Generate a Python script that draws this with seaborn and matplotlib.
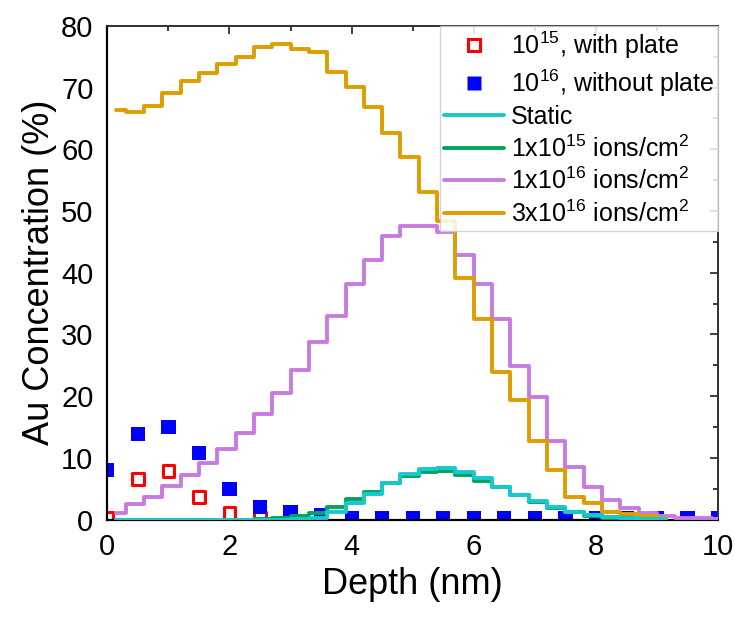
import numpy as np
import matplotlib
matplotlib.use("Agg")
import matplotlib.pyplot as plt
from matplotlib.lines import Line2D
from matplotlib.ticker import MultipleLocator
import seaborn as sns

# ---------------- data ----------------
depth_orange = [0.15, 0.45, 0.75, 1.05, 1.35, 1.65, 1.95, 2.25, 2.55, 2.85, 3.15,
                3.45, 3.75, 4.05, 4.35, 4.65, 4.95, 5.25, 5.55, 5.85, 6.15, 6.45,
                6.75, 7.05, 7.35, 7.65, 7.95, 8.25, 8.55, 8.85, 9.15]
conc_3e16 = [66.3, 66.1, 67.0, 69.1, 71.1, 72.4, 73.8, 75.0, 76.5, 77.0, 76.2,
             75.8, 72.6, 70.1, 66.8, 62.6, 58.8, 53.0, 48.4, 39.1, 32.5, 23.9,
             19.3, 12.8, 8.1, 3.7, 2.7, 1.3, 0.9, 0.5, 0.3]

depth_purple = [0.15, 0.45, 0.75, 1.05, 1.35, 1.65, 1.95, 2.25, 2.55, 2.85, 3.15,
                3.45, 3.75, 4.05, 4.35, 4.65, 4.95, 5.25, 5.55, 5.85, 6.15, 6.45,
                6.75, 7.05, 7.35, 7.65, 7.95, 8.25, 8.55, 8.85, 9.15, 9.45, 9.75, 10.05]
conc_1e16 = [1.1, 2.5, 3.7, 5.5, 7.2, 9.1, 11.5, 14.1, 17.1, 20.5, 24.2,
             28.7, 33.0, 38.1, 42.0, 46.0, 47.5, 47.6, 46.6, 42.9, 38.2, 32.5,
             24.9, 19.9, 12.8, 8.5, 5.3, 3.2, 1.8, 1.1, 0.6, 0.3, 0.2, 0.1]

depth_low = [0.15, 0.45, 0.75, 1.05, 1.35, 1.65, 1.95, 2.25, 2.55, 2.85, 3.15,
             3.45, 3.75, 4.05, 4.35, 4.65, 4.95, 5.25, 5.55, 5.85, 6.15, 6.45,
             6.75, 7.05, 7.35, 7.65, 7.95, 8.25, 8.55, 8.85, 9.15]
conc_static = [0.0, 0.0, 0.0, 0.0, 0.0, 0.0, 0.0, 0.0, 0.0, 0.0, 0.1,
               0.3, 1.2, 2.6, 4.2, 5.9, 7.3, 8.2, 8.3, 7.7, 6.7, 5.3,
               4.0, 3.0, 2.0, 1.3, 0.7, 0.4, 0.2, 0.1, 0.05]
conc_1e15 = [0.0, 0.0, 0.0, 0.0, 0.0, 0.0, 0.0, 0.0, 0.1, 0.3, 0.6,
             1.0, 2.0, 3.3, 4.5, 6.0, 7.1, 7.75, 7.8, 7.2, 6.2, 5.2,
             3.9, 2.9, 1.9, 1.2, 0.6, 0.3, 0.15, 0.05, 0.0]

meas_depth_red = [0.0, 0.5, 1.0, 1.5, 2.0, 2.5]
meas_1e15_plate = [0.3, 6.6, 7.9, 3.7, 1.1, 0.3]

meas_depth_blue = [0.0, 0.5, 1.0, 1.5, 2.0, 2.5, 3.0, 3.5, 4.0, 4.5, 5.0,
                   5.5, 6.0, 6.5, 7.0, 7.5, 8.0, 8.5, 9.0, 9.5, 10.0]
meas_1e16_noplate = [8.0, 13.8, 15.0, 10.8, 4.9, 2.0, 1.2, 0.7, 0.2, 0.2, 0.2,
                     0.2, 0.2, 0.2, 0.2, 0.2, 0.2, 0.2, 0.2, 0.2, 0.2]

labels = [r"$\mathregular{10^{15}}$, with plate",
          r"$\mathregular{10^{16}}$, without plate",
          "Static",
          r"1x$\mathregular{10^{15}}$ ions/cm$\mathregular{^2}$",
          r"1x$\mathregular{10^{16}}$ ions/cm$\mathregular{^2}$",
          r"3x$\mathregular{10^{16}}$ ions/cm$\mathregular{^2}$"]

x_ticks = [0, 2, 4, 6, 8, 10]
y_ticks = [0, 10, 20, 30, 40, 50, 60, 70, 80]

# ---------------- style ----------------
sns.set_style("white")
plt.rcParams["font.family"] = ["Liberation Sans", "DejaVu Sans"]
plt.rcParams["mathtext.default"] = "regular"
plt.rcParams["text.color"] = "black"
plt.rcParams["axes.labelcolor"] = "black"
plt.rcParams["xtick.color"] = "black"
plt.rcParams["ytick.color"] = "black"

c_cyan = "#17C8CE"
c_green = "#03A55B"
c_purple = "#C77BE2"
c_orange = "#DE9D00"
c_red = "#FF0000"
c_blue = "#0000FF"
lw = 2.8

fig = plt.figure(figsize=(7.35, 6.19), dpi=100)
ax = fig.add_axes([0.146, 0.1607, 0.831, 0.7975])

sns.scatterplot(x=meas_depth_red, y=meas_1e15_plate, marker="s", s=70,
                facecolor="none", edgecolor=c_red, linewidth=2.2, ax=ax, zorder=2)
sns.scatterplot(x=meas_depth_blue, y=meas_1e16_noplate, marker="s", s=105,
                color=c_blue, edgecolor="none", linewidth=0, ax=ax, zorder=2)

for xs, ys, c in [(depth_purple, conc_1e16, c_purple),
                  (depth_orange, conc_3e16, c_orange),
                  (depth_low, conc_1e15, c_green),
                  (depth_low, conc_static, c_cyan)]:
    sns.lineplot(x=xs, y=ys, ax=ax, color=c, lw=lw, drawstyle="steps-mid",
                 estimator=None, sort=False, zorder=3)

ax.set_xlim(0, 10)
ax.set_ylim(0, 80)
ax.set_xticks(x_ticks)
ax.set_yticks(y_ticks)
ax.xaxis.set_minor_locator(MultipleLocator(1))
ax.yaxis.set_minor_locator(MultipleLocator(5))
ax.tick_params(which="major", direction="out", length=7, width=1.5,
               labelsize=21, colors="black", pad=3)
ax.tick_params(which="minor", direction="out", length=4, width=1.2)
ax.tick_params(top=False, right=False, which="both")

for side in ["left", "bottom"]:
    ax.spines[side].set_color("black")
    ax.spines[side].set_linewidth(1.6)
for side in ["top", "right"]:
    ax.spines[side].set_color("#333333")
    ax.spines[side].set_linewidth(1.3)

secx = ax.secondary_xaxis("top")
secx.set_xticks(x_ticks)
secx.xaxis.set_minor_locator(MultipleLocator(1))
secx.tick_params(which="major", direction="in", length=6, width=1.3, labeltop=False, colors="#333333")
secx.tick_params(which="minor", direction="in", length=3.5, width=1.1)
secx.spines["top"].set_color("#333333")
secx.spines["top"].set_linewidth(1.3)

secy = ax.secondary_yaxis("right")
secy.set_yticks(y_ticks)
secy.yaxis.set_minor_locator(MultipleLocator(5))
secy.tick_params(which="major", direction="in", length=6, width=1.3, labelright=False, colors="#333333")
secy.tick_params(which="minor", direction="in", length=3.5, width=1.1)
secy.spines["right"].set_color("#333333")
secy.spines["right"].set_linewidth(1.3)

ax.set_xlabel("Depth (nm)", fontsize=26, labelpad=4)
ax.set_ylabel("Au Concentration (%)", fontsize=26, labelpad=3)

handles = [
    Line2D([], [], marker="s", ls="none", markersize=8.5, markerfacecolor="none",
           markeredgecolor=c_red, markeredgewidth=2.2),
    Line2D([], [], marker="s", ls="none", markersize=10.5, markerfacecolor=c_blue,
           markeredgecolor="none"),
    Line2D([], [], color=c_cyan, lw=lw),
    Line2D([], [], color=c_green, lw=lw),
    Line2D([], [], color=c_purple, lw=lw),
    Line2D([], [], color=c_orange, lw=lw),
]
leg = ax.legend(handles, labels, loc="upper right", bbox_to_anchor=(1.0, 1.0),
                borderaxespad=0, fontsize=18, frameon=True, fancybox=False,
                edgecolor="#cccccc", framealpha=0.85, handlelength=2.4,
                handletextpad=0.3, labelspacing=0.25, borderpad=0.15)
leg.get_frame().set_linewidth(1.0)
leg.set_zorder(5)

fig.savefig("out.png", dpi=100)
